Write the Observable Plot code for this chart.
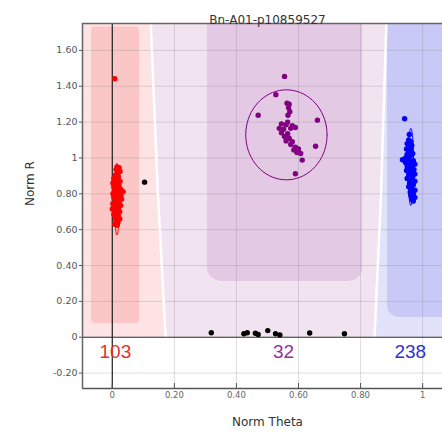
<!DOCTYPE html>
<html><head><meta charset="utf-8">
<script src="https://cdn.jsdelivr.net/npm/d3@7"></script>
<script src="https://cdn.jsdelivr.net/npm/@observablehq/plot@0.6"></script>
<style>body{margin:0;background:#fff;} svg{display:block}</style>
</head><body><div id="chart"></div>
<script>
const title = "Bn-A01-p10859527";
const xLabel = "Norm Theta";
const yLabel = "Norm R";
const xTicks = [0, 0.2, 0.4, 0.6, 0.8, 1];
const xTickLabels = ["0", "0.20", "0.40", "0.60", "0.80", "1"];
const yTicks = [-0.2, 0, 0.2, 0.4, 0.6, 0.8, 1, 1.2, 1.4, 1.6];
const yTickLabels = ["-0.20", "0", "0.20", "0.40", "0.60", "0.80", "1", "1.20", "1.40", "1.60"];
const xDomain = [-0.096, 1.064];
const yDomain = [-0.286, 1.75];

// cluster call counts
const clusterNames = ["AA", "AB", "BB"];
const clusterCounts = [103, 32, 238];
const clusterTheta = [0.01, 0.552, 0.96];

// classification zone boundaries (theta at given R)
const boundaryR = [0, 0.8, 1.75];
const leftBoundaryTheta = [0.172, 0.147, 0.124];
const rightBoundaryTheta = [0.845, 0.866, 0.883];

// cluster core bands [theta1, theta2, r1, r2]
const redBand = [-0.067, 0.088, 0.076, 1.73];
const purpleBand = [0.307, 0.807, 0.311, 2.2];
const blueBand = [0.887, 1.4, 0.11, 2.2];

// cluster ellipses [cx, cy, rx, ry]
const redEllipse = [0.015, 0.77, 0.008, 0.2];
const purpleEllipse = [0.561, 1.129, 0.131, 0.251];
const blueEllipse = [0.962, 0.95, 0.009, 0.215];

const redPoints = [
 [0.008,1.442],
 [0.015,0.95],[0.022,0.945],[0.012,0.935],[0.025,0.925],[0.018,0.915],[0.010,0.905],[0.020,0.895],
 [0.005,0.885],[0.015,0.875],[0.025,0.87],[0.002,0.86],[0.012,0.855],[0.022,0.845],[0.005,0.84],
 [0.018,0.83],[0.028,0.825],[0.008,0.82],[0.035,0.812],[0.020,0.81],[0.002,0.80],[0.012,0.795],
 [0.028,0.79],[0.005,0.78],[0.018,0.775],[0.030,0.77],[0.010,0.76],[0.022,0.755],[0.002,0.745],
 [0.015,0.74],[0.027,0.735],[0.005,0.725],[0.020,0.72],[0.010,0.71],[0.024,0.70],[0.000,0.715],
 [0.015,0.695],[0.005,0.685],[0.020,0.675],[0.010,0.665],[0.024,0.66],[0.012,0.65],[0.018,0.64],[0.008,0.63],[0.016,0.625]
];
const purplePoints = [
 [0.555,1.455],[0.527,1.353],[0.470,1.238],[0.661,1.211],[0.563,1.305],[0.570,1.300],[0.568,1.280],
 [0.572,1.258],[0.566,1.238],[0.545,1.190],[0.560,1.185],[0.580,1.180],[0.538,1.165],[0.552,1.160],
 [0.575,1.165],[0.590,1.170],[0.545,1.140],[0.565,1.135],[0.555,1.120],[0.570,1.110],[0.560,1.095],
 [0.580,1.090],[0.575,1.075],[0.590,1.060],[0.600,1.050],[0.585,1.045],[0.607,1.025],[0.612,0.988],
 [0.655,1.065],[0.590,0.912],[0.565,1.200],[0.595,1.030]
];
const bluePoints = [
 [0.942,1.219],[0.957,1.131],
 [0.955,1.10],[0.962,1.09],[0.950,1.08],[0.965,1.07],[0.955,1.06],[0.948,1.05],[0.962,1.045],
 [0.955,1.035],[0.968,1.025],[0.950,1.02],[0.960,1.01],[0.945,1.00],[0.935,0.99],[0.955,0.99],[0.970,0.985],
 [0.945,0.975],[0.962,0.97],[0.975,0.965],[0.950,0.955],[0.965,0.95],[0.955,0.94],[0.972,0.935],[0.948,0.93],
 [0.962,0.92],[0.975,0.91],[0.955,0.905],[0.968,0.895],[0.950,0.885],[0.962,0.875],[0.975,0.87],[0.958,0.86],
 [0.970,0.85],[0.955,0.84],[0.965,0.83],[0.975,0.82],[0.960,0.81],[0.970,0.80],[0.962,0.79],[0.975,0.78],[0.965,0.77],[0.970,0.76]
];
const noCallPoints = [
 [0.104,0.865],[0.319,0.025],[0.424,0.019],[0.435,0.025],[0.461,0.022],[0.470,0.015],
 [0.501,0.037],[0.526,0.019],[0.540,0.013],[0.636,0.024],[0.748,0.019]
];

// derived tables
const zones = boundaryR.map((r, i) => ({y: r, xl: leftBoundaryTheta[i], xr: rightBoundaryTheta[i]}));
function ellipsePts(e, name) {
  const [cx, cy, rx, ry] = e;
  return d3.range(0, 73).map(k => {
    const a = k / 72 * 2 * Math.PI;
    return {x: cx + rx * Math.cos(a), y: cy + ry * Math.sin(a), c: name};
  });
}
const ellipses = [
  ...ellipsePts(redEllipse, "red"),
  ...ellipsePts(purpleEllipse, "purple"),
  ...ellipsePts(blueEllipse, "blue")
];
const labels = clusterNames.map((n, i) => ({name: n, count: clusterCounts[i], x: clusterTheta[i]}));
const band = b => [{x1: b[0], x2: b[1], y1: b[2], y2: b[3]}];
const xFmt = d => xTickLabels[xTicks.indexOf(d)];
const yFmt = d => yTickLabels[yTicks.indexOf(d)];
const xMid = (xTicks[0] + xTicks[xTicks.length - 1]) / 2;
const pts = a => a.map(([x, y]) => ({x, y}));

const font = "DejaVu Sans, Verdana, sans-serif";
const chart = Plot.plot({
  width: 442, height: 432,
  marginLeft: 82, marginRight: 0, marginTop: 23, marginBottom: 44,
  style: {fontFamily: font, background: "white"},
  x: {domain: xDomain, axis: null},
  y: {domain: yDomain, axis: null},
  marks: [
    Plot.areaX(zones, {y: "y", x1: () => xDomain[0], x2: "xl", fill: "#fde3e3"}),
    Plot.areaX(zones, {y: "y", x1: "xl", x2: "xr", fill: "#f1e3f0"}),
    Plot.areaX(zones, {y: "y", x1: "xr", x2: () => xDomain[1], fill: "#e2e2fb"}),
    Plot.rect(band(redBand), {x1: "x1", x2: "x2", y1: "y1", y2: "y2", fill: "#fbc6c6", rx: 4, clip: true}),
    Plot.rect(band(purpleBand), {x1: "x1", x2: "x2", y1: "y1", y2: "y2", fill: "#e3c9e3", rx: 14, clip: true}),
    Plot.rect(band(blueBand), {x1: "x1", x2: "x2", y1: "y1", y2: "y2", fill: "#c9c9f7", rx: 12, clip: true}),
    Plot.gridX(xTicks, {stroke: "#888", strokeOpacity: 0.28}),
    Plot.gridY(yTicks, {stroke: "#888", strokeOpacity: 0.28}),
    Plot.line(zones, {x: "xl", y: "y", stroke: "white", strokeWidth: 2.5}),
    Plot.line(zones, {x: "xr", y: "y", stroke: "white", strokeWidth: 2.5}),
    Plot.ruleY([0], {stroke: "#333", strokeWidth: 1.2}),
    Plot.ruleX([0], {stroke: "#222", strokeWidth: 1.2}),
    Plot.ruleY([yDomain[1]], {stroke: "#666", strokeWidth: 1.5}),
    Plot.ruleY([yDomain[0]], {stroke: "#555", strokeWidth: 1.5}),
    Plot.ruleX([xDomain[0]], {stroke: "#666", strokeWidth: 1.5}),
    Plot.tickX(xTicks, {x: d => d, insetTop: 360, stroke: "#555"}),
    Plot.line(ellipses, {x: "x", y: "y", z: "c", stroke: d => d.c, strokeWidth: 1}),
    Plot.dot(pts(noCallPoints), {x: "x", y: "y", r: 2.7, fill: "black"}),
    Plot.dot(pts(redPoints), {x: "x", y: "y", r: 2.7, fill: "#ff0000"}),
    Plot.dot(pts(purplePoints), {x: "x", y: "y", r: 2.7, fill: "#800080"}),
    Plot.dot(pts(bluePoints), {x: "x", y: "y", r: 2.7, fill: "#0000ff"}),
    Plot.text(labels, {x: "x", y: () => -0.08, text: d => String(d.count), fontSize: 19,
      fill: (d, i) => ["#e53030", "#93309a", "#3030cc"][i], fontFamily: "Liberation Sans, Arial, sans-serif"}),
    Plot.axisY(yTicks, {tickFormat: yFmt, tickSize: 3, tickPadding: 2, fontSize: 9.5, fill: "#555", stroke: "#555"}),
    Plot.axisX(xTicks, {tickFormat: xFmt, tickSize: 0, tickPadding: 3, fontSize: 8.5, fill: "#666"}),
    Plot.text([title], {x: () => xMid, frameAnchor: "top", dy: -8, fontSize: 12, fill: "#333"}),
    Plot.text([xLabel], {x: () => xMid, frameAnchor: "bottom", dy: 37, fontSize: 12, fill: "#333"}),
    Plot.text([yLabel], {frameAnchor: "left", dx: -52, rotate: -90, fontSize: 12, fill: "#333"})
  ]
});
document.getElementById("chart").appendChild(chart);
</script>
</body></html>
